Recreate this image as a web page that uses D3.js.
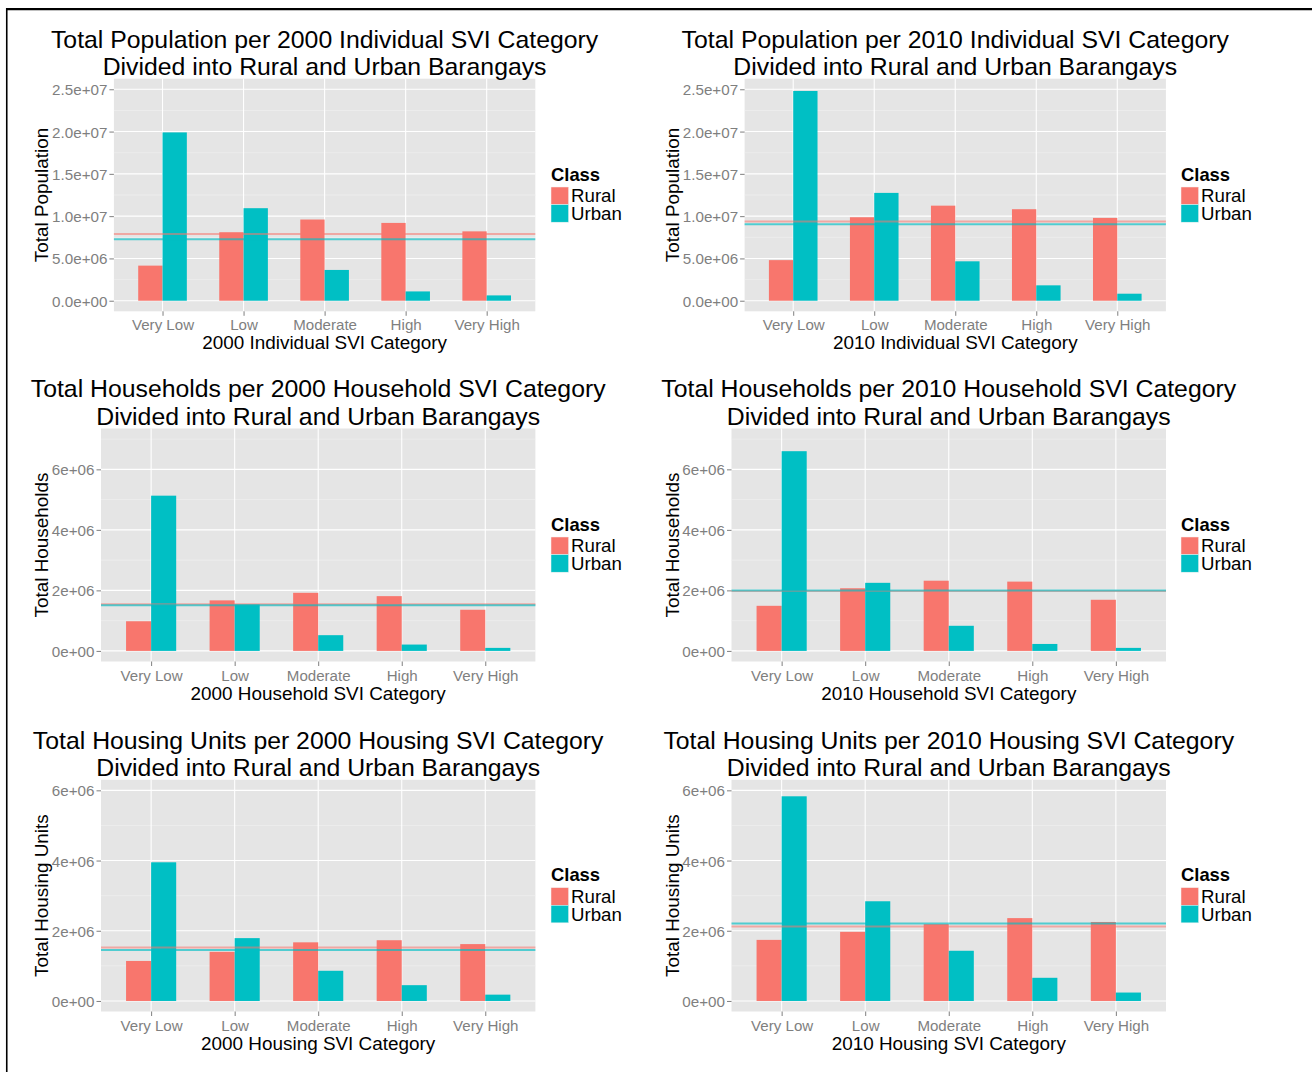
<!DOCTYPE html>
<html>
<head>
<meta charset="utf-8">
<script src="https://cdn.jsdelivr.net/npm/d3@7"></script>
<style>
  html, body { margin: 0; padding: 0; background: #fff; }
  svg text { font-family: "Liberation Sans", Arial, Helvetica, sans-serif; }
</style>
</head>
<body>
<svg id="chart" width="1312" height="1072"></svg>
<script>
// ---------------- data ----------------
const categories = ["Very Low", "Low", "Moderate", "High", "Very High"];
const classes = ["Rural", "Urban"];
const classColors = ["#F8766D", "#00BFC4"];

const popRural2000 = [4.15e6, 8.1e6, 9.6e6, 9.2e6, 8.2e6];
const popUrban2000 = [1.99e7, 1.094e7, 3.64e6, 1.1e6, 0.63e6];
const popRural2010 = [4.8e6, 9.87e6, 1.124e7, 1.082e7, 9.79e6];
const popUrban2010 = [2.48e7, 1.275e7, 4.66e6, 1.82e6, 0.83e6];
const hhRural2000 = [0.98e6, 1.67e6, 1.92e6, 1.81e6, 1.36e6];
const hhUrban2000 = [5.13e6, 1.54e6, 0.52e6, 0.21e6, 0.10e6];
const hhRural2010 = [1.49e6, 2.07e6, 2.32e6, 2.29e6, 1.69e6];
const hhUrban2010 = [6.6e6, 2.25e6, 0.83e6, 0.23e6, 0.10e6];
const huRural2000 = [1.14e6, 1.40e6, 1.67e6, 1.73e6, 1.62e6];
const huUrban2000 = [3.95e6, 1.79e6, 0.86e6, 0.45e6, 0.18e6];
const huRural2010 = [1.74e6, 1.97e6, 2.19e6, 2.36e6, 2.25e6];
const huUrban2010 = [5.83e6, 2.84e6, 1.43e6, 0.66e6, 0.24e6];

// horizontal reference lines (class means), one per panel
const meanRural = [7.9e6, 9.38e6, 1.54e6, 1.98e6, 1.52e6, 2.12e6];
const meanUrban = [7.26e6, 9.03e6, 1.51e6, 2.0e6, 1.45e6, 2.21e6];

const popTicks = [0, 5e6, 1e7, 1.5e7, 2e7, 2.5e7];
const popTickLabels = ["0.0e+00", "5.0e+06", "1.0e+07", "1.5e+07", "2.0e+07", "2.5e+07"];
const countTicks = [0, 2e6, 4e6, 6e6];
const countTickLabels = ["0e+00", "2e+06", "4e+06", "6e+06"];

const titleLine2 = "Divided into Rural and Urban Barangays";
const panelTitles = [
  "Total Population per 2000 Individual SVI Category",
  "Total Population per 2010 Individual SVI Category",
  "Total Households per 2000 Household SVI Category",
  "Total Households per 2010 Household SVI Category",
  "Total Housing Units per 2000 Housing SVI Category",
  "Total Housing Units per 2010 Housing SVI Category"
];
const xTitles = [
  "2000 Individual SVI Category", "2010 Individual SVI Category",
  "2000 Household SVI Category", "2010 Household SVI Category",
  "2000 Housing SVI Category", "2010 Housing SVI Category"
];
const yTitles = ["Total Population", "Total Population", "Total Households", "Total Households",
  "Total Housing Units", "Total Housing Units"];
const yMax = [2.5e7, 2.5e7, 7e6, 7e6, 6e6, 6e6];

// ---------------- layout ----------------
const panels = [
  { x0: 113.9, x1: 535.3, y0: 78.7, y1: 311.3, rural: popRural2000, urban: popUrban2000, ticks: popTicks, tl: popTickLabels, ytx: 48, legX: 551 },
  { x0: 744.6, x1: 1165.9, y0: 78.7, y1: 311.3, rural: popRural2010, urban: popUrban2010, ticks: popTicks, tl: popTickLabels, ytx: 678.5, legX: 1181 },
  { x0: 101, x1: 535.4, y0: 428.5, y1: 661.5, rural: hhRural2000, urban: hhUrban2000, ticks: countTicks, tl: countTickLabels, ytx: 48, legX: 551 },
  { x0: 731.5, x1: 1166, y0: 428.5, y1: 661.5, rural: hhRural2010, urban: hhUrban2010, ticks: countTicks, tl: countTickLabels, ytx: 678.5, legX: 1181 },
  { x0: 101, x1: 535.4, y0: 779.8, y1: 1011.5, rural: huRural2000, urban: huUrban2000, ticks: countTicks, tl: countTickLabels, ytx: 48, legX: 551 },
  { x0: 731.5, x1: 1166, y0: 779.8, y1: 1011.5, rural: huRural2010, urban: huUrban2010, ticks: countTicks, tl: countTickLabels, ytx: 678.5, legX: 1181 }
];

const svg = d3.select("#chart");

// frame
svg.append("line").attr("x1", 6.75).attr("x2", 6.75).attr("y1", 8).attr("y2", 1072)
  .attr("stroke", "#000").attr("stroke-width", 1.6);
svg.append("line").attr("x1", 6).attr("x2", 1312).attr("y1", 9.2).attr("y2", 9.2)
  .attr("stroke", "#000").attr("stroke-width", 2.2);

panels.forEach((p, k) => {
  const g = svg.append("g");
  const W = p.x1 - p.x0;
  const x = d3.scalePoint().domain(categories).range([p.x0, p.x1]).padding(0.6);
  const step = x.step();
  const m = yMax[k];
  const y = d3.scaleLinear().domain([-0.05 * m, 1.05 * m]).range([p.y1, p.y0]);

  // panel background
  g.append("rect").attr("x", p.x0).attr("y", p.y0).attr("width", W).attr("height", p.y1 - p.y0)
    .attr("fill", "#E5E5E5");

  // minor grid
  const majorStep = p.ticks[1] - p.ticks[0];
  const minor = [];
  for (let v = p.ticks[0] - majorStep / 2; v <= 1.05 * m; v += majorStep) {
    if (v >= -0.05 * m) minor.push(v);
  }
  g.selectAll(".minor").data(minor).enter().append("line")
    .attr("x1", p.x0).attr("x2", p.x1)
    .attr("y1", d => y(d)).attr("y2", d => y(d))
    .attr("stroke", "#F2F2F2").attr("stroke-width", 0.6);

  // major grid
  g.selectAll(".majh").data(p.ticks).enter().append("line")
    .attr("x1", p.x0).attr("x2", p.x1)
    .attr("y1", d => y(d)).attr("y2", d => y(d))
    .attr("stroke", "#FFFFFF").attr("stroke-width", 1.1);
  g.selectAll(".majv").data(categories).enter().append("line")
    .attr("x1", d => x(d)).attr("x2", d => x(d))
    .attr("y1", p.y0).attr("y2", p.y1)
    .attr("stroke", "#FFFFFF").attr("stroke-width", 1.1);

  // bars
  const bw = 0.3 * step;
  const series = [p.rural, p.urban];
  series.forEach((vals, s) => {
    g.selectAll(".bar" + s).data(categories).enter().append("rect")
      .attr("x", d => x(d) - bw + s * bw)
      .attr("y", (d, i) => y(vals[i]))
      .attr("width", bw)
      .attr("height", (d, i) => y(0) - y(vals[i]))
      .attr("fill", classColors[s]);
  });

  // mean lines
  [[meanRural[k], 0, 0.55], [meanUrban[k], 1, 0.65]].forEach(([v, s, a]) => {
    g.append("line").attr("x1", p.x0).attr("x2", p.x1)
      .attr("y1", y(v)).attr("y2", y(v))
      .attr("stroke", classColors[s]).attr("stroke-opacity", a).attr("stroke-width", 2);
  });

  // y axis
  const yAxis = d3.axisLeft(y).tickValues(p.ticks)
    .tickFormat((d, i) => p.tl[i]).tickSize(4.5).tickPadding(2);
  const ya = g.append("g").attr("transform", `translate(${p.x0},0)`).call(yAxis);
  ya.select(".domain").remove();
  ya.selectAll(".tick line").attr("stroke", "#7F7F7F").attr("stroke-width", 1);
  ya.selectAll(".tick text").attr("fill", "#7F7F7F").attr("font-size", "15.2px")
    .attr("font-family", "Liberation Sans, Arial, sans-serif").attr("dy", "0.36em");

  // x axis
  const xAxis = d3.axisBottom(x).tickSize(4.5).tickPadding(3);
  const xa = g.append("g").attr("transform", `translate(0,${p.y1})`).call(xAxis);
  xa.select(".domain").remove();
  xa.selectAll(".tick line").attr("stroke", "#7F7F7F").attr("stroke-width", 1);
  xa.selectAll(".tick text").attr("fill", "#7F7F7F").attr("font-size", "15.1px")
    .attr("font-family", "Liberation Sans, Arial, sans-serif").attr("dy", null).attr("y", 19);

  // titles
  const cx = (p.x0 + p.x1) / 2;
  g.append("text").attr("x", cx).attr("y", p.y0 - 31.2).attr("text-anchor", "middle")
    .attr("font-size", "24.8px").attr("fill", "#000").text(panelTitles[k]);
  g.append("text").attr("x", cx).attr("y", p.y0 - 4).attr("text-anchor", "middle")
    .attr("font-size", "24.8px").attr("fill", "#000").text(titleLine2);

  g.append("text").attr("x", cx).attr("y", p.y1 + 38).attr("text-anchor", "middle")
    .attr("font-size", "18.9px").attr("fill", "#000").text(xTitles[k]);

  const cy = (p.y0 + p.y1) / 2;
  g.append("text").attr("transform", `translate(${p.ytx},${cy}) rotate(-90)`)
    .attr("text-anchor", "middle").attr("font-size", "18.9px").attr("fill", "#000").text(yTitles[k]);

  // legend
  const lg = g.append("g");
  lg.append("text").attr("x", p.legX).attr("y", cy - 14.5).attr("font-size", "18.4px")
    .attr("font-weight", "bold").attr("fill", "#000").text("Class");
  classes.forEach((c, s) => {
    const ky = cy - 8 + s * 17.6;
    lg.append("rect").attr("x", p.legX).attr("y", ky).attr("width", 17.6).attr("height", 17.6)
      .attr("fill", classColors[s]).attr("stroke", "#F2F2F2").attr("stroke-width", 0.5);
    lg.append("text").attr("x", p.legX + 20).attr("y", ky + 15.3).attr("font-size", "18.7px")
      .attr("fill", "#000").text(c);
  });
});
</script>
</body>
</html>
